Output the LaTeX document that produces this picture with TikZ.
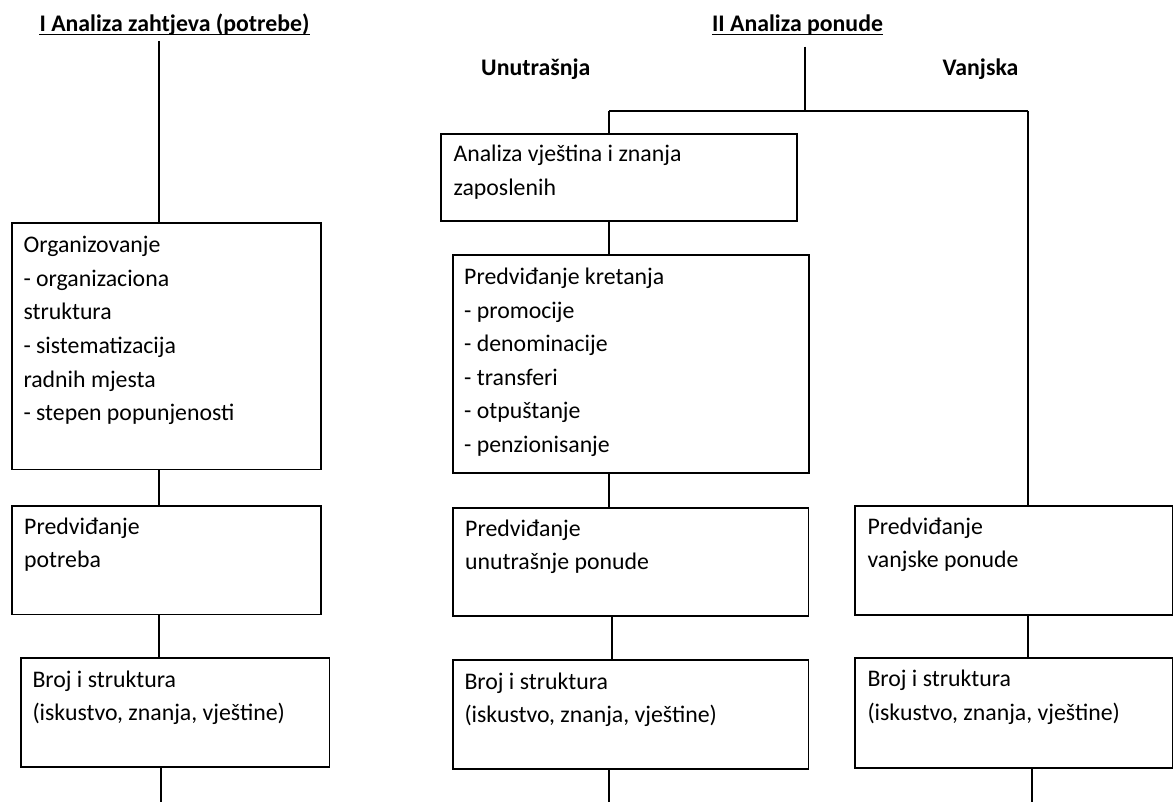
\documentclass[tikz,border=0pt]{standalone}
\usepackage{fontspec}
\setmainfont{Carlito}
\usetikzlibrary{calc}
\tikzset{
  box/.style={draw, line width=1.8pt, anchor=north west, inner sep=0pt},
  txt/.style={anchor=north west, inner sep=0pt, align=left, yshift=23.6pt,
    font=\fontsize{23.8}{33.6}\selectfont},
  ttl/.style={anchor=base, inner sep=0pt, font=\fontsize{23.8}{33.6}\selectfont\bfseries},
  con/.style={line width=1.8pt},
}
\begin{document}
\begin{tikzpicture}[x=1pt,y=-1pt]
\useasboundingbox (0,0) rectangle (1173,802);
% titles
\node[ttl] (t1) at (174.5,31.7) {I Analiza zahtjeva (potrebe)};
\node[ttl] (t2) at (797.5,31.7) {II Analiza ponude};
\node[ttl] (un) at (535.8,75.3) {Unutrašnja};
\node[ttl] (va) at (980.5,75.3) {Vanjska};
\draw[line width=1.4pt] ([yshift=-3pt]t1.base west) -- ([yshift=-3pt]t1.base east);
\draw[line width=1.4pt] ([yshift=-3pt]t2.base west) -- ([yshift=-3pt]t2.base east);
% left column boxes
\node[box, minimum width=309pt, minimum height=246.5pt] (org) at (11,222) {};
\node[txt] (orgt) at (23.3,252.5) {\strut Organizovanje\\- organizaciona\\struktura\\- sistematizacija\\radnih mjesta\\- stepen popunjenosti};
\node[box, minimum width=309pt, minimum height=108.5pt] (pp) at (11,505) {};
\node[txt] (ppt) at (24,534) {\strut Predviđanje\\potreba};
\node[box, minimum width=308.5pt, minimum height=109pt] (bl) at (20,656.8) {};
\node[txt] (blt) at (32.3,687) {\strut Broj i struktura\\(iskustvo, znanja, vještine)};
% middle column boxes
\node[box, minimum width=355.5pt, minimum height=86.8pt] (avz) at (440.3,133.3) {};
\node[txt] (avzt) at (453.3,161.7) {\strut Analiza vještina i znanja\\zaposlenih};
\node[box, minimum width=356pt, minimum height=217.5pt] (pk) at (451.7,254.3) {};
\node[txt] (pkt) at (464,284.3) {\strut Predviđanje kretanja\\- promocije\\- denominacije\\- transferi\\- otpuštanje\\- penzionisanje};
\node[box, minimum width=355.5pt, minimum height=108.5pt] (pu) at (452,506.7) {};
\node[txt] (put) at (465,536) {\strut Predviđanje\\unutrašnje ponude};
\node[box, minimum width=355.5pt, minimum height=108.7pt] (bm) at (452,659) {};
\node[txt] (bmt) at (464.3,689) {\strut Broj i struktura\\(iskustvo, znanja, vještine)};
% right column boxes
\node[box, minimum width=317.7pt, minimum height=109.3pt] (pv) at (854.3,505) {};
\node[txt] (pvt) at (867.3,534) {\strut Predviđanje\\vanjske ponude};
\node[box, minimum width=317.7pt, minimum height=109.4pt] (br) at (854.3,657.3) {};
\node[txt] (brt) at (867.3,686.7) {\strut Broj i struktura\\(iskustvo, znanja, vještine)};
% coordinates for free ends
\coordinate (lt) at (159.3,41);
\coordinate (lb) at (160.7,802);
\coordinate (mt) at (805,46.7);
\coordinate (mj) at (805,111);
\coordinate (hl) at (609,111);
\coordinate (hr) at (1028.3,111);
\coordinate (mb) at (609,802);
\coordinate (rb) at (1031.7,802);
% left connectors
\draw[con] (lt) -- (lt |- org.north);
\draw[con] (159.3,0 |- org.south) -- (159.3,0 |- pp.north);
\draw[con] (159.3,0 |- pp.south) -- (159.3,0 |- bl.north);
\draw[con] (lb |- bl.south) -- (lb);
% middle connectors
\draw[con] (mt) -- (mj);
\draw[con] (hl) -- (hr);
\draw[con] (hl) -- (hl |- avz.north);
\draw[con] (hl |- avz.south) -- (hl |- pk.north);
\draw[con] (hl |- pk.south) -- (hl |- pu.north);
\draw[con] (612,0 |- pu.south) -- (612,0 |- bm.north);
\draw[con] (mb |- bm.south) -- (mb);
% right connectors
\draw[con] (hr) -- (hr |- pv.north);
\draw[con] (hr |- pv.south) -- (hr |- br.north);
\draw[con] (rb |- br.south) -- (rb);
\end{tikzpicture}
\end{document}
